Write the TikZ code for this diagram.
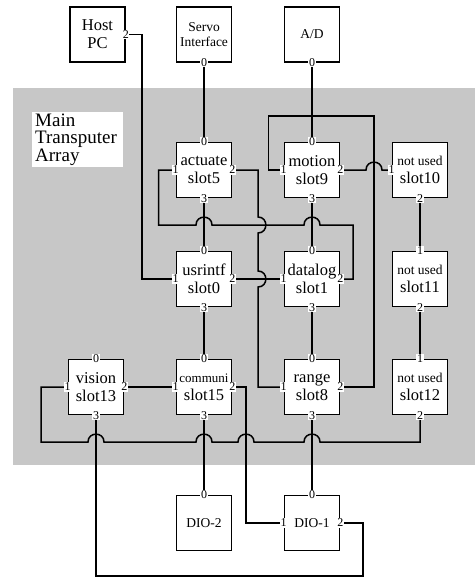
\documentclass[tikz,border=0pt]{standalone}
\usepackage{fontspec}
\setmainfont{Liberation Serif}
\begin{document}
\begin{tikzpicture}[x=1pt,y=-1pt,
  box/.style={draw, line width=1.6pt, fill=white, minimum width=55pt, minimum height=55pt, inner sep=0pt, align=center, font=\fontsize{16.5}{18}\selectfont},
  smallbox/.style={box, font=\fontsize{13.5}{15}\selectfont},
  port/.style={fill=white, inner sep=0.6pt, font=\fontsize{12}{12}\selectfont},
  wire/.style={line width=1.5pt}]
\useasboundingbox (0,0) rectangle (475,578);
\fill[black!22] (13,88) rectangle (475,465);
\node[fill=white, anchor=north west, text width=85pt, minimum height=55pt, inner xsep=3pt, inner ysep=0pt, align=left, font=\fontsize{19}{17.5}\selectfont] (lbl) at (32,112) {Main\\Transputer\\Array};
% boxes
\node[box] (host) at (97.5,34.5) {Host\\PC};
\node[smallbox] (servo) at (204,34.5) {Servo\\Interface};
\node[smallbox] (ad) at (312,34.5) {A/D};
\node[box] (actuate) at (204,170) {actuate\\slot5};
\node[box] (motion) at (312,170) {motion\\slot9};
\node[box] (slot10) at (420,170) {{\fontsize{13.5}{15}\selectfont not used}\\slot10};
\node[box] (usrintf) at (204,279) {usrintf\\slot0};
\node[box] (datalog) at (312,279) {datalog\\slot1};
\node[box] (slot11) at (420,279) {{\fontsize{13.5}{15}\selectfont not used}\\slot11};
\node[box] (vision) at (96,387) {vision\\slot13};
\node[box] (communi) at (204,387) {{\fontsize{13}{15}\selectfont communi}\\slot15};
\node[box] (range) at (312,387) {range\\slot8};
\node[box] (slot12) at (420,387) {{\fontsize{13.5}{15}\selectfont not used}\\slot12};
\node[smallbox] (dio2) at (204,523) {DIO-2};
\node[smallbox] (dio1) at (312,523) {DIO-1};
% wires
\draw[wire] (host.east) -- ++(16,0) |- (usrintf.west);
\draw[wire] (servo.south) -- (actuate.north);
\draw[wire] (ad.south) -- (motion.north);
\draw[wire] (motion.west) -- ++(-15,0) |- (374,116) |- (range.east);
\draw[wire] (motion.east) -- (366,170) .. controls (366,159.5) and (382,159.5) .. (382,170) -- (slot10.west);
\draw[wire] (actuate.west) -- ++(-17,0) |- (196,225) .. controls (196,214.5) and (212,214.5) .. (212,225) -- (304,225) .. controls (304,214.5) and (320,214.5) .. (320,225) -| (353,279) -- (datalog.east);
\draw[wire] (actuate.east) -| (258,217) .. controls (268.5,217) and (268.5,233) .. (258,233) -- (258,271) .. controls (268.5,271) and (268.5,287) .. (258,287) |- (range.west);
\draw[wire] (actuate.south) -- (usrintf.north);
\draw[wire] (motion.south) -- (datalog.north);
\draw[wire] (usrintf.east) -- (datalog.west);
\draw[wire] (usrintf.south) -- (communi.north);
\draw[wire] (datalog.south) -- (range.north);
\draw[wire] (slot10.south) -- (slot11.north);
\draw[wire] (slot11.south) -- (slot12.north);
\draw[wire] (vision.east) -- (communi.west);
\draw[wire] (vision.west) -| (41,442) -- (88,442) .. controls (88,431.5) and (104,431.5) .. (104,442) -- (196,442) .. controls (196,431.5) and (212,431.5) .. (212,442) -- (238,442) .. controls (238,431.5) and (254,431.5) .. (254,442) -- (304,442) .. controls (304,431.5) and (320,431.5) .. (320,442) -| (slot12.south);
\draw[wire] (vision.south) |- (363,576) |- (dio1.east);
\draw[wire] (communi.east) -| (246,523) -- (dio1.west);
\draw[wire] (communi.south) -- (dio2.north);
\draw[wire] (range.south) -- (dio1.north);
% port labels
\node[port] (host-2) at (host.east) {2};
\node[port] (servo-0) at (servo.south) {0};
\node[port] (ad-0) at (ad.south) {0};
\foreach \n in {actuate,motion,usrintf,datalog,vision,communi,range}{
  \node[port] (\n-0) at (\n.north) {0};
  \node[port] (\n-1) at (\n.west) {1};
  \node[port] (\n-2) at (\n.east) {2};
  \node[port] (\n-3) at (\n.south) {3};
}
\node[port] (slot10-1) at (slot10.west) {1};
\node[port] (slot10-2) at (slot10.south) {2};
\node[port] (slot11-1) at (slot11.north) {1};
\node[port] (slot11-2) at (slot11.south) {2};
\node[port] (slot12-1) at (slot12.north) {1};
\node[port] (slot12-2) at (slot12.south) {2};
\node[port] (dio2-0) at (dio2.north) {0};
\node[port] (dio1-0) at (dio1.north) {0};
\node[port] (dio1-1) at (dio1.west) {1};
\node[port] (dio1-2) at (dio1.east) {2};
\end{tikzpicture}
\end{document}
